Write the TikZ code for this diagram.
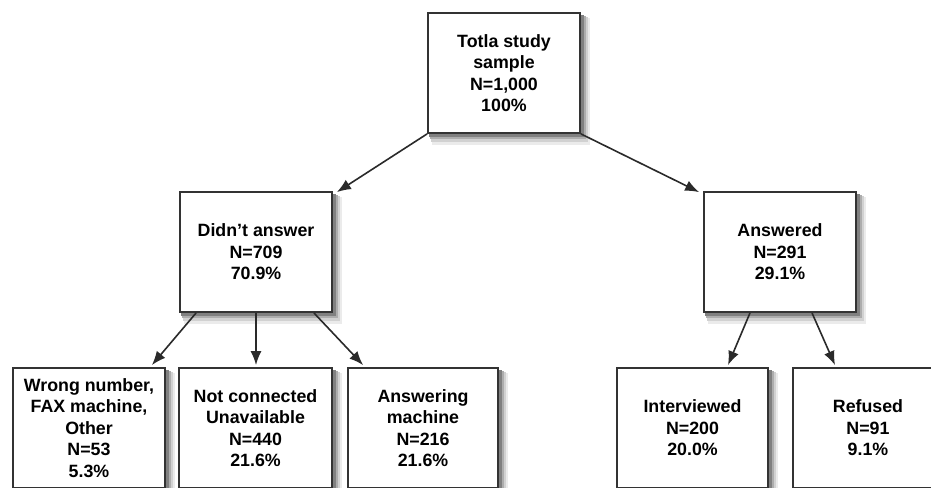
\documentclass[tikz,border=0pt]{standalone}
\usepackage{fontspec}
\setmainfont{Liberation Sans}
\usetikzlibrary{arrows.meta,calc,backgrounds}
\definecolor{edgegray}{HTML}{333333}
\definecolor{arrowgray}{HTML}{2A2A2A}
\tikzset{
  flowbox/.style={rectangle, draw=edgegray, line width=1.8pt, fill=white,
    minimum width=152pt, minimum height=120pt, inner sep=0pt,
    align=center, text=black,
    font=\bfseries\fontsize{17.8}{21.5}\selectfont},
  flowarrow/.style={draw=arrowgray, line width=1.6pt,
    -{Latex[length=14pt,width=11pt]}}
}
\begin{document}
\begin{tikzpicture}[x=1pt,y=-1pt]
\useasboundingbox (0,0) rectangle (931,487);
\clip (0,0) rectangle (931,487);
\node[flowbox] (top) at (504,73) {Totla study\\sample\\N=1,000\\100\%};
\node[flowbox] (dna) at (256,252) {Didn’t answer\\N=709\\70.9\%};
\node[flowbox] (ans) at (780,252) {Answered\\N=291\\29.1\%};
\node[flowbox] (wrong) at (89,428) {Wrong number,\\FAX machine,\\Other\\N=53\\5.3\%};
\node[flowbox, minimum width=153pt] (nc) at (255.5,428) {Not connected\\Unavailable\\N=440\\21.6\%};
\node[flowbox, minimum width=150pt] (am) at (423,428) {Answering\\machine\\N=216\\21.6\%};
\node[flowbox, minimum width=151pt] (int) at (692.5,428) {Interviewed\\N=200\\20.0\%};
\node[flowbox, minimum width=150pt] (ref) at (868,428) {Refused\\N=91\\9.1\%};
\begin{scope}[on background layer]
\fill[white] (0,0) rectangle (931,487);
\foreach \n in {top,dna,ans,wrong,nc,am,int,ref}{
  \fill[black!8]  ($(\n.north west)+(5,6)$) rectangle ($(\n.south east)+(9,11)$);
  \fill[black!18] ($(\n.north west)+(4,5)$) rectangle ($(\n.south east)+(7,8)$);
  \fill[black!32] ($(\n.north west)+(3,4)$) rectangle ($(\n.south east)+(5,5.5)$);
  \fill[black!50] ($(\n.north west)+(2,3)$) rectangle ($(\n.south east)+(3,3.5)$);
}
\end{scope}
\draw[flowarrow] (top.south west) -- ($(dna.north east)+(4,1)$);
\draw[flowarrow] (top.south east) -- ($(ans.north west)+(-4,1)$);
\draw[flowarrow] ($(dna.south west)+(17,0)$) -- ($(wrong.north east)+(-14,-2)$);
\draw[flowarrow] (dna.south) -- ($(nc.north)+(0.5,-2)$);
\draw[flowarrow] ($(dna.south east)+(-19,0)$) -- ($(am.north west)+(16,-2)$);
\draw[flowarrow] ($(ans.south)+(-30,0)$) -- ($(int.north)+(35.5,-2)$);
\draw[flowarrow] ($(ans.south)+(32,0)$) -- ($(ref.north)+(-33,-2)$);
\end{tikzpicture}
\end{document}
